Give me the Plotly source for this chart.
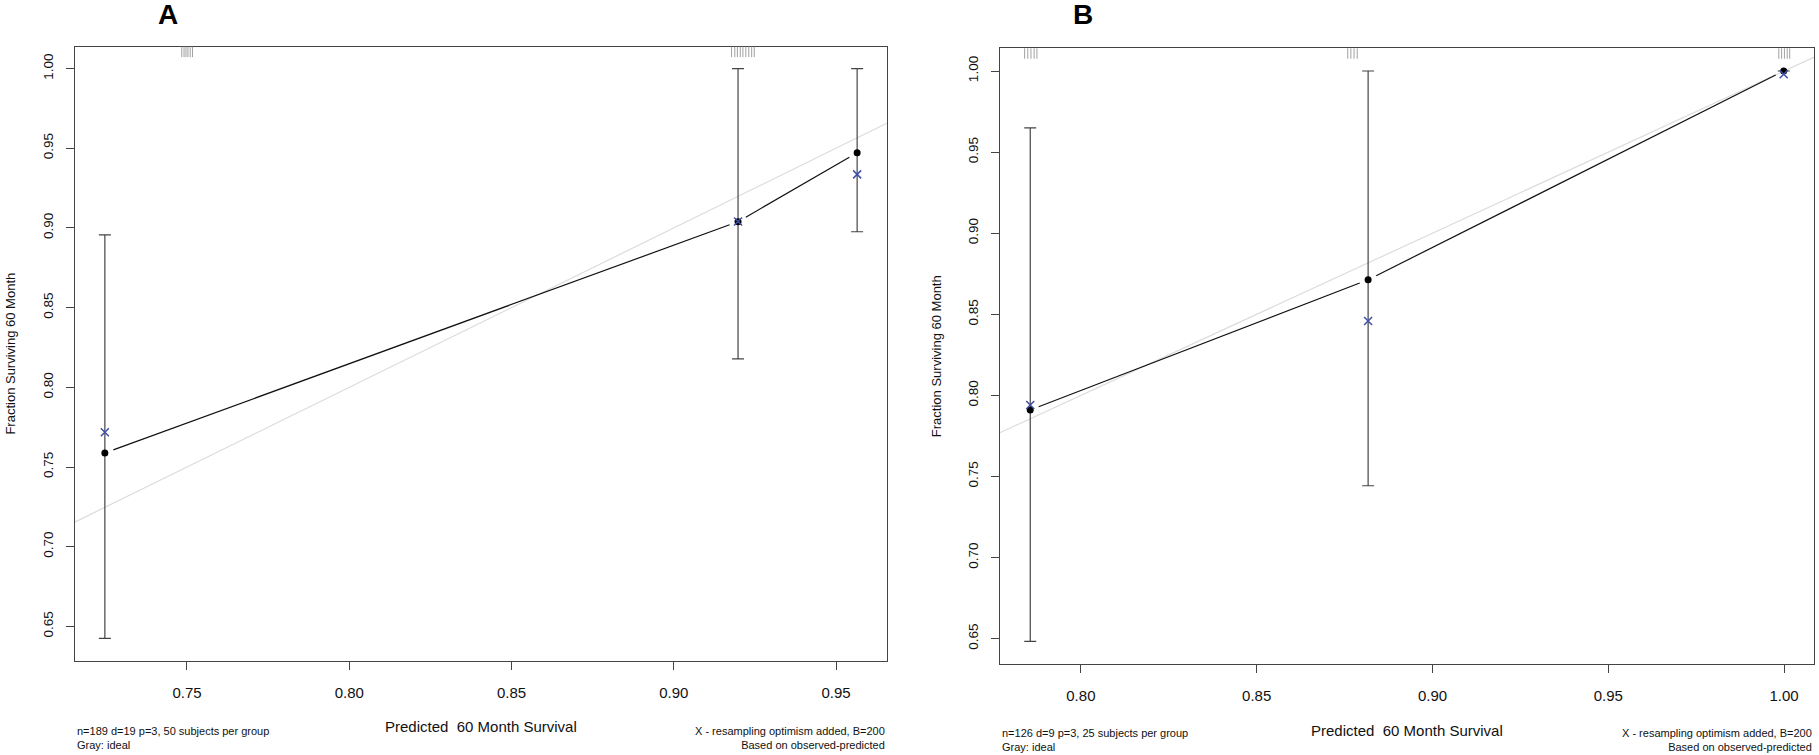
import math
import plotly.graph_objects as go

W, H = 1819, 755

# ---------------- data ----------------
# Panel A
a_pred = [0.7247, 0.9198, 0.9565]
a_obs = [0.7588, 0.9039, 0.9472]
a_corr = [0.7718, 0.9040, 0.9336]
a_low = [0.6425, 0.8178, 0.8976]
a_up = [0.8957, 1.0000, 1.0000]
a_rug = [0.7484, 0.7491, 0.7497, 0.7503, 0.7510, 0.7517,
         0.9178, 0.9188, 0.9196, 0.9205, 0.9213, 0.9222, 0.9231, 0.9240, 0.9248]
a_xticks = [0.75, 0.80, 0.85, 0.90, 0.95]
a_yticks = [0.65, 0.70, 0.75, 0.80, 0.85, 0.90, 0.95, 1.00]
a_note_left = "n=189 d=19 p=3, 50 subjects per group<br>Gray: ideal"

# Panel B
b_pred = [0.7856, 0.8817, 0.9999]
b_obs = [0.7910, 0.8713, 1.0000]
b_corr = [0.7941, 0.8459, 0.9980]
b_low = [0.6484, 0.7443, 1.0000]
b_up = [0.9650, 1.0000, 1.0000]
b_rug = [0.7840, 0.7849, 0.7858, 0.7867, 0.7875,
         0.8759, 0.8768, 0.8777, 0.8786,
         0.9985, 0.9993, 1.0001, 1.0009, 1.0016]
b_xticks = [0.80, 0.85, 0.90, 0.95, 1.00]
b_yticks = [0.65, 0.70, 0.75, 0.80, 0.85, 0.90, 0.95, 1.00]
b_note_left = "n=126 d=9 p=3, 25 subjects per group<br>Gray: ideal"

note_right = "X - resampling optimism added, B=200<br>Based on observed-predicted"
x_title = "Predicted  60 Month Survival"
y_title = "Fraction Surviving 60 Month"
panel_labels = ["A", "B"]

# ---------------- layout helpers ----------------
FONT = "Liberation Sans, Arial, Helvetica, sans-serif"
AXC = "#444444"
BLUE = "#3f4fa3"
GAP_PX = 9  # gap around points in the connecting line (R type="b")

def px(x):
    return x / W

def py(y):
    return 1 - y / H

panels = [
    dict(pred=a_pred, obs=a_obs, corr=a_corr, low=a_low, up=a_up, rug=a_rug,
         xticks=a_xticks, yticks=a_yticks, note=a_note_left,
         xrange=[0.7155, 0.9657], yrange=[0.6286, 1.0137],
         box=(75, 887, 46.7, 660.5), label_x=167.5, foot_y=738),
    dict(pred=b_pred, obs=b_obs, corr=b_corr, low=b_low, up=b_up, rug=b_rug,
         xticks=b_xticks, yticks=b_yticks, note=b_note_left,
         xrange=[0.7770, 1.0086], yrange=[0.6344, 1.0140],
         box=(1000, 1814.3, 48.3, 664), label_x=1083, foot_y=740),
]

fig = go.Figure()
annotations = []
shapes = []

for i, p in enumerate(panels):
    n = "" if i == 0 else str(i + 1)
    xa, ya = "x" + n, "y" + n
    l, r, t, b = p["box"]
    sx = (r - l) / (p["xrange"][1] - p["xrange"][0])
    sy = (b - t) / (p["yrange"][1] - p["yrange"][0])

    # ideal line (gray diagonal)
    lo = min(p["xrange"][0], p["yrange"][0])
    hi = max(p["xrange"][1], p["yrange"][1])
    fig.add_trace(go.Scatter(x=[lo, hi], y=[lo, hi], mode="lines",
                             line=dict(color="#dcdcdc", width=1.2),
                             xaxis=xa, yaxis=ya, showlegend=False, hoverinfo="skip"))

    # connecting line with gaps around points
    lx, ly = [], []
    for k in range(len(p["pred"]) - 1):
        x0, y0 = p["pred"][k], p["obs"][k]
        x1, y1 = p["pred"][k + 1], p["obs"][k + 1]
        dx, dy = (x1 - x0) * sx, (y1 - y0) * sy
        d = math.hypot(dx, dy)
        f = GAP_PX / d
        lx += [x0 + (x1 - x0) * f, x1 - (x1 - x0) * f, None]
        ly += [y0 + (y1 - y0) * f, y1 - (y1 - y0) * f, None]
    fig.add_trace(go.Scatter(x=lx, y=ly, mode="lines",
                             line=dict(color="#111111", width=1.2),
                             xaxis=xa, yaxis=ya, showlegend=False, hoverinfo="skip"))

    # observed with error bars
    fig.add_trace(go.Scatter(
        x=p["pred"], y=p["obs"], mode="markers",
        marker=dict(color="#000000", size=7, symbol="circle"),
        error_y=dict(type="data", symmetric=False,
                     array=[u - o for u, o in zip(p["up"], p["obs"])],
                     arrayminus=[o - lw for o, lw in zip(p["obs"], p["low"])],
                     color=AXC, thickness=1.2, width=6),
        xaxis=xa, yaxis=ya, showlegend=False))
    # optimism-corrected (blue X)
    fig.add_trace(go.Scatter(
        x=p["pred"], y=p["corr"], mode="markers",
        marker=dict(symbol="x-thin", size=8, line=dict(color=BLUE, width=1.5)),
        xaxis=xa, yaxis=ya, showlegend=False))

    # rug at top
    for v in p["rug"]:
        shapes.append(dict(type="line", xref=xa, yref=ya + " domain",
                           x0=v, x1=v, y0=1.0, y1=0.983,
                           line=dict(color="#a0a0a0", width=1)))

    dom_x = [px(l), px(r)]
    dom_y = [py(b), py(t)]
    axis_common = dict(showline=True, mirror=True, linecolor=AXC, linewidth=1.2,
                       ticks="outside", ticklen=8, tickcolor=AXC, tickwidth=1.2,
                       showgrid=False, zeroline=False, tickformat=".2f")
    fig.update_layout(**{
        ("xaxis" + n): dict(domain=dom_x, range=p["xrange"], tickvals=p["xticks"],
                            anchor=ya, ticklabelstandoff=10,
                            tickfont=dict(family=FONT, size=15, color="#111"),
                            **axis_common),
        ("yaxis" + n): dict(domain=dom_y, range=p["yrange"], tickvals=p["yticks"],
                            anchor=xa, tickangle=-90, ticklabelstandoff=8,
                            tickfont=dict(family=FONT, size=13.5, color="#111"),
                            **axis_common),
    })

    # panel label
    annotations.append(dict(text="<b>" + panel_labels[i] + "</b>", x=px(p["label_x"]), y=py(15),
                            xref="paper", yref="paper", showarrow=False,
                            xanchor="center", yanchor="middle",
                            font=dict(family="Liberation Sans Narrow, " + FONT, size=28, color="#000")))
    # x title
    annotations.append(dict(text=x_title, x=px((l + r) / 2), y=py(b + 66),
                            xref="paper", yref="paper", showarrow=False,
                            xanchor="center", yanchor="middle",
                            font=dict(family=FONT, size=15, color="#111")))
    # y title
    annotations.append(dict(text=y_title, x=px(l - 64), y=py((t + b) / 2),
                            xref="paper", yref="paper", showarrow=False, textangle=-90,
                            xanchor="center", yanchor="middle",
                            font=dict(family=FONT, size=13, color="#111")))
    # footnotes
    annotations.append(dict(text=p["note"], x=px(l), y=py(p["foot_y"]),
                            xref="paper", yref="paper", showarrow=False,
                            xanchor="left", yanchor="middle", align="left",
                            font=dict(family=FONT, size=11, color="#111")))
    annotations.append(dict(text=note_right, x=px(r), y=py(p["foot_y"]),
                            xref="paper", yref="paper", showarrow=False,
                            xanchor="right", yanchor="middle", align="right",
                            font=dict(family=FONT, size=11, color="#111")))

fig.update_layout(width=W, height=H, margin=dict(l=0, r=0, t=0, b=0),
                  paper_bgcolor="white", plot_bgcolor="white",
                  annotations=annotations, shapes=shapes, showlegend=False)

fig.write_html("out.html", config={"displayModeBar": False},
               post_script="document.body.style.margin='0';document.body.style.overflow='hidden';")
